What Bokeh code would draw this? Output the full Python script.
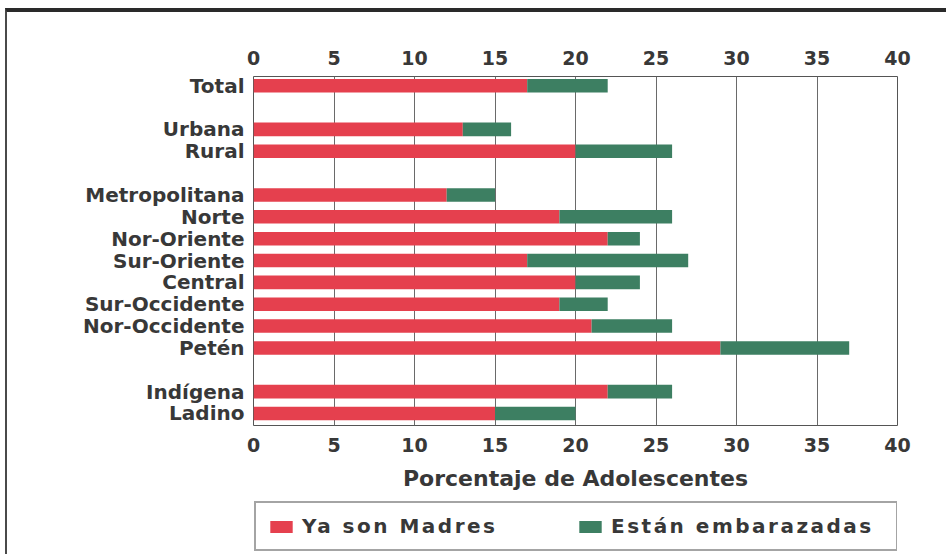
from bokeh.plotting import figure
from bokeh.layouts import column
from bokeh.models import (Range1d, FixedTicker, LinearAxis, Legend, LegendItem,
                          ColumnDataSource)
from bokeh.embed import file_html
from bokeh.resources import INLINE

# ---- data ----
group_total = ["Total"]
group_area = ["Urbana", "Rural"]
group_region = ["Metropolitana", "Norte", "Nor-Oriente", "Sur-Oriente", "Central",
                "Sur-Occidente", "Nor-Occidente", "Petén"]
group_ethnic = ["Indígena", "Ladino"]
groups = [group_total, group_area, group_region, group_ethnic]

ya_son_madres = [17, 13, 20, 12, 19, 22, 17, 20, 19, 21, 29, 22, 15]
estan_embarazadas = [5, 3, 6, 3, 7, 2, 10, 4, 3, 5, 8, 4, 5]
x_ticks = [0, 5, 10, 15, 20, 25, 30, 35, 40]
series_labels = ["Ya son Madres", "Están embarazadas"]
x_title = "Porcentaje de Adolescentes"

# ---- row positions (one empty row between groups) ----
categories, rows = [], []
r = 0
for g in groups:
    for c in g:
        categories.append(c)
        rows.append(r)
        r += 1
    r += 1

src = ColumnDataSource(dict(row=rows, cat=categories,
                            madres=ya_son_madres, emb=estan_embarazadas))

RED = "#E5404E"
GREEN = "#3D7F62"
TXT = "#383838"
FONT = "DejaVu Sans"

p = figure(width=941, height=483, output_backend="svg", toolbar_location=None,
           x_range=Range1d(0, 40), y_range=Range1d(rows[-1] + 0.55, -0.42),
           min_border_left=246, min_border_right=51, min_border_top=64,
           min_border_bottom=70, background_fill_color="white",
           border_fill_color="white")
p.styles = {"margin-left": "5px", "margin-top": "8px",
            "border-top": "4px solid #2a2a2a", "border-left": "2px solid #4a4a4a"}

rs = p.hbar_stack(["madres", "emb"], y="row", height=0.62, color=[RED, GREEN],
                  line_color=None, source=src)

# ---- axes ----
bottom_axis = p.xaxis[0]
bottom_axis.ticker = FixedTicker(ticks=x_ticks)
top_axis = LinearAxis(ticker=FixedTicker(ticks=x_ticks))
p.add_layout(top_axis, "above")

for ax in [bottom_axis, top_axis]:
    ax.axis_line_color = None
    ax.major_tick_line_color = None
    ax.minor_tick_line_color = None
    ax.major_tick_out = 0
    ax.major_tick_in = 0
    ax.major_label_text_font = FONT
    ax.major_label_text_font_style = "bold"
    ax.major_label_text_font_size = "19px"
    ax.major_label_text_color = TXT
    ax.major_label_standoff = 12

bottom_axis.axis_label = x_title
bottom_axis.axis_label_text_font = FONT
bottom_axis.axis_label_text_font_style = "bold"
bottom_axis.axis_label_text_font_size = "22px"
bottom_axis.axis_label_text_color = TXT
bottom_axis.axis_label_standoff = 11

yax = p.yaxis[0]
yax.ticker = FixedTicker(ticks=rows)
yax.major_label_overrides = {rw: c for rw, c in zip(rows, categories)}
yax.axis_line_color = None
yax.major_tick_line_color = None
yax.minor_tick_line_color = None
yax.major_tick_out = 0
yax.major_tick_in = 0
yax.major_label_standoff = 9
yax.major_label_text_font = FONT
yax.major_label_text_font_style = "bold"
yax.major_label_text_font_size = "20px"
yax.major_label_text_color = TXT

p.xgrid.ticker = FixedTicker(ticks=x_ticks)
p.xgrid.grid_line_color = "#6a6a6a"
p.xgrid.grid_line_width = 1
p.ygrid.grid_line_color = None

p.outline_line_color = "#555555"
p.outline_line_width = 1

# ---- legend strip (separate small figure; its bars fall outside its range) ----
pl = figure(width=941, height=63, output_backend="svg", toolbar_location=None,
            x_range=Range1d(-200, -100), y_range=Range1d(100, 200),
            x_axis_location=None, y_axis_location=None,
            min_border_left=0, min_border_right=0, min_border_top=0,
            min_border_bottom=0, background_fill_color="white",
            border_fill_color="white")
pl.styles = {"margin-left": "5px", "border-left": "2px solid #4a4a4a",
             "letter-spacing": "2.5px"}
pl.outline_line_color = None
pl.grid.grid_line_color = None
rl = pl.hbar_stack(["madres", "emb"], y="row", height=0.62, color=[RED, GREEN],
                   line_color=None, source=src)

legend = Legend(items=[LegendItem(label=series_labels[0], renderers=[rl[0]]),
                       LegendItem(label=series_labels[1], renderers=[rl[1]])],
                orientation="horizontal", location=(1, 3),
                border_line_color="#4a4a4a", border_line_width=2,
                background_fill_color="white", background_fill_alpha=1,
                label_text_font=FONT, label_text_font_style="bold",
                label_text_font_size="20px", label_text_color=TXT,
                glyph_width=28, glyph_height=15, label_standoff=7,
                padding=11, spacing=0, margin=0, label_width=274)
pl.add_layout(legend, "center")

layout = column(p, pl, spacing=0)
open("out.html", "w").write(file_html(layout, INLINE))
